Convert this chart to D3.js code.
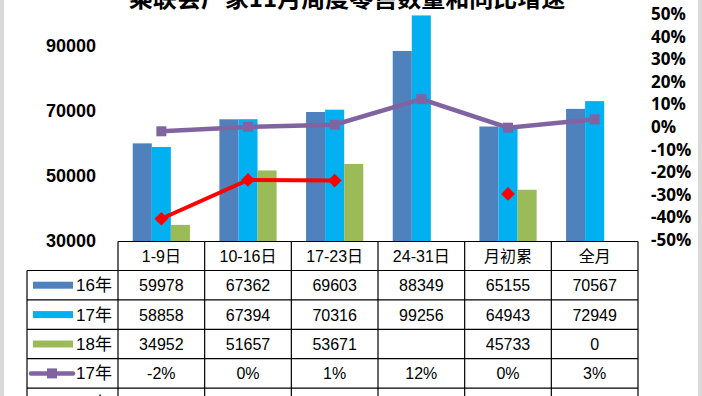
<!DOCTYPE html>
<html>
<head>
<meta charset="utf-8">
<script src="https://cdn.jsdelivr.net/npm/d3@7"></script>
<style>
  body { margin: 0; background: #fff; }
  svg { display: block; }
  text { font-family: "Liberation Sans", Arial, "Noto Sans CJK SC", sans-serif; fill: #000; }
</style>
</head>
<body>
<div id="chart"></div>
<script>
// Categories and series
const categories = ["1-9日", "10-16日", "17-23日", "24-31日", "月初累", "全月"];
const seriesNames = ["16年", "17年", "18年"];
const sales16 = [59978, 67362, 69603, 88349, 65155, 70567];
const sales17 = [58858, 67394, 70316, 99256, 64943, 72949];
const sales18 = [34952, 51657, 53671, null, 45733, 0];
const growth17 = [-1.9, 0.05, 1.0, 12.3, -0.3, 3.4];
const growth18 = [-40.6, -23.4, -23.7, null, -29.6, null];
const growth17Labels = ["-2%", "0%", "1%", "12%", "0%", "3%"];
const growth18Labels = ["-41%", "-23%", "-24%", "", "-30%", ""];
const leftTicks = [30000, 50000, 70000, 90000];
const rightTicks = [-50, -40, -30, -20, -10, 0, 10, 20, 30, 40, 50];

function chartOne(width, height, selector) {

  // colours (Excel defaults)
  const barColors = ["#4F81BD", "#00B0F0", "#9BBB59"];
  const purple = "#8064A2";
  const red = "#FF0000";

  //////////////////////////////
  //// Dimensions & scales  ////
  //////////////////////////////

  const plot = { left: 118, right: 638, top: 13, bottom: 241 };
  const tableTop = 241.5;
  const headerH = 29;
  const rowH = 29.4;
  const legendLeft = 27;

  const x0 = d3.scaleBand()
    .domain(categories)
    .range([plot.left, plot.right]);

  const groupW = x0.bandwidth() * 0.66;
  const x1 = d3.scaleBand()
    .domain(seriesNames)
    .range([0, groupW]);

  const yLeft = d3.scaleLinear()
    .domain([30000, 100000])
    .range([plot.bottom, plot.top]);

  const yRight = d3.scaleLinear()
    .domain([-50, 50])
    .range([240, 14]);

  const svg = d3.select(selector)
    .append("svg")
    .attr("width", width)
    .attr("height", height);

  svg.append("rect").attr("width", width).attr("height", height).attr("fill", "#fff");
  // gray frame edges
  svg.append("rect").attr("x", 0).attr("y", 0).attr("width", 4).attr("height", height).attr("fill", "#d9d9d9");
  svg.append("rect").attr("x", width - 4).attr("y", 0).attr("width", 4).attr("height", height).attr("fill", "#d9d9d9");

  // title (cropped at top in the original)
  svg.append("text")
    .attr("x", 347)
    .attr("y", 7)
    .attr("text-anchor", "middle")
    .style("font-family", "'Noto Sans CJK SC', sans-serif")
    .style("font-size", "24px")
    .style("font-weight", "bold")
    .text("乘联会厂家11月周度零售数量和同比增速");

  ////////////////
  //// Bars   ////
  ////////////////

  const barData = categories.map((c, i) => ({
    cat: c,
    values: [sales16[i], sales17[i], sales18[i]]
  }));

  const groups = svg.append("g")
    .selectAll("g")
    .data(barData)
    .join("g")
    .attr("transform", d => `translate(${x0(d.cat) + (x0.bandwidth() - groupW) / 2},0)`);

  groups.selectAll("rect")
    .data(d => d.values.map((v, j) => ({ key: seriesNames[j], v: v, j: j })).filter(e => e.v != null && e.v > 30000))
    .join("rect")
    .attr("x", e => x1(e.key))
    .attr("width", x1.bandwidth())
    .attr("y", e => yLeft(e.v))
    .attr("height", e => yLeft(30000) - yLeft(e.v))
    .attr("fill", e => barColors[e.j]);

  /////////////////
  //// Lines   ////
  /////////////////

  const cx = c => x0(c) + x0.bandwidth() / 2;

  const line17 = d3.line()
    .x((d, i) => cx(categories[i]))
    .y(d => yRight(d));

  svg.append("path")
    .attr("d", line17(growth17))
    .attr("fill", "none")
    .attr("stroke", purple)
    .attr("stroke-width", 4.5);

  svg.append("g")
    .selectAll("rect")
    .data(growth17)
    .join("rect")
    .attr("x", (d, i) => cx(categories[i]) - 5)
    .attr("y", d => yRight(d) - 5)
    .attr("width", 10)
    .attr("height", 10)
    .attr("fill", purple);

  const line18 = d3.line()
    .defined(d => d != null)
    .x((d, i) => cx(categories[i]))
    .y(d => yRight(d));

  svg.append("path")
    .attr("d", line18(growth18))
    .attr("fill", "none")
    .attr("stroke", red)
    .attr("stroke-width", 4);

  const diamond = d3.symbol().type(d3.symbolDiamond2).size(120);
  svg.append("g")
    .selectAll("path")
    .data(growth18.map((v, i) => ({ v, i })).filter(d => d.v != null))
    .join("path")
    .attr("d", diamond)
    .attr("transform", d => `translate(${cx(categories[d.i])},${yRight(d.v)})`)
    .attr("fill", red);

  ////////////////
  //// Axes   ////
  ////////////////

  const axisL = svg.append("g")
    .attr("transform", "translate(96,0)")
    .call(d3.axisLeft(yLeft).tickValues(leftTicks).tickSize(0).tickPadding(0).tickFormat(d3.format("d")));
  axisL.select(".domain").remove();
  axisL.selectAll("text")
    .style("font-size", "18px")
    .style("font-weight", "bold")
    .style("font-family", "'Liberation Sans', Arial, sans-serif")
    .attr("fill", "#000");

  const axisR = svg.append("g")
    .attr("transform", "translate(651,0)")
    .call(d3.axisRight(yRight).tickValues(rightTicks).tickSize(0).tickPadding(0).tickFormat(d => d + "%"));
  axisR.select(".domain").remove();
  axisR.selectAll("text")
    .style("font-size", "17px")
    .style("font-weight", "bold")
    .style("font-family", "'Open Sans', sans-serif")
    .attr("fill", "#000");

  /////////////////
  //// Table   ////
  /////////////////

  const table = svg.append("g");
  const rowsData = [
    { label: "16年", kind: "bar", color: barColors[0], cells: sales16.map(v => v == null ? "" : v) },
    { label: "17年", kind: "bar", color: barColors[1], cells: sales17.map(v => v == null ? "" : v) },
    { label: "18年", kind: "bar", color: barColors[2], cells: sales18.map(v => v == null ? "" : v) },
    { label: "17年", kind: "square", color: purple, cells: growth17Labels },
    { label: "18年", kind: "diamond", color: red, cells: growth18Labels }
  ];

  const rowTop = i => tableTop + headerH + i * rowH;
  const tableBottom = rowTop(rowsData.length);

  // header
  table.selectAll("text.head")
    .data(categories)
    .join("text")
    .attr("class", "head")
    .attr("x", d => cx(d))
    .attr("y", tableTop + headerH / 2 + 6)
    .attr("text-anchor", "middle")
    .style("font-size", "16px")
    .text(d => d);

  // horizontal lines
  table.append("line")
    .attr("x1", plot.left).attr("x2", plot.right)
    .attr("y1", tableTop).attr("y2", tableTop)
    .attr("stroke", "#000").attr("stroke-width", 1.2);
  d3.range(rowsData.length + 1).forEach(i => {
    table.append("line")
      .attr("x1", legendLeft).attr("x2", plot.right)
      .attr("y1", rowTop(i)).attr("y2", rowTop(i))
      .attr("stroke", "#000").attr("stroke-width", 1.2);
  });

  // vertical lines
  x0.domain().concat(["__end"]).forEach((c, i) => {
    const xv = plot.left + i * x0.step();
    table.append("line")
      .attr("x1", xv).attr("x2", xv)
      .attr("y1", tableTop).attr("y2", tableBottom)
      .attr("stroke", "#000").attr("stroke-width", 1.2);
  });
  table.append("line")
    .attr("x1", legendLeft).attr("x2", legendLeft)
    .attr("y1", rowTop(0)).attr("y2", tableBottom)
    .attr("stroke", "#000").attr("stroke-width", 1.2);

  rowsData.forEach((r, i) => {
    const yc = rowTop(i) + rowH / 2;
    if (r.kind === "bar") {
      table.append("rect")
        .attr("x", 33).attr("y", yc - 3.5)
        .attr("width", 40).attr("height", 7)
        .attr("fill", r.color);
    } else {
      table.append("line")
        .attr("x1", 31).attr("x2", 73)
        .attr("y1", yc).attr("y2", yc)
        .attr("stroke", r.color).attr("stroke-width", 4.5)
        .attr("stroke-linecap", "round");
      if (r.kind === "square") {
        table.append("rect")
          .attr("x", 52 - 5).attr("y", yc - 5)
          .attr("width", 10).attr("height", 10)
          .attr("fill", r.color);
      } else {
        table.append("path")
          .attr("d", diamond())
          .attr("transform", `translate(52,${yc})`)
          .attr("fill", r.color);
      }
    }
    table.append("text")
      .attr("x", 76)
      .attr("y", yc + 6)
      .style("font-size", "17px")
      .text(r.label);

    table.selectAll(null)
      .data(r.cells)
      .join("text")
      .attr("x", (d, k) => cx(categories[k]))
      .attr("y", yc + 6)
      .attr("text-anchor", "middle")
      .style("font-size", "16px")
      .text(d => d);
  });
}

chartOne(702, 396, "#chart");
</script>
</body>
</html>
